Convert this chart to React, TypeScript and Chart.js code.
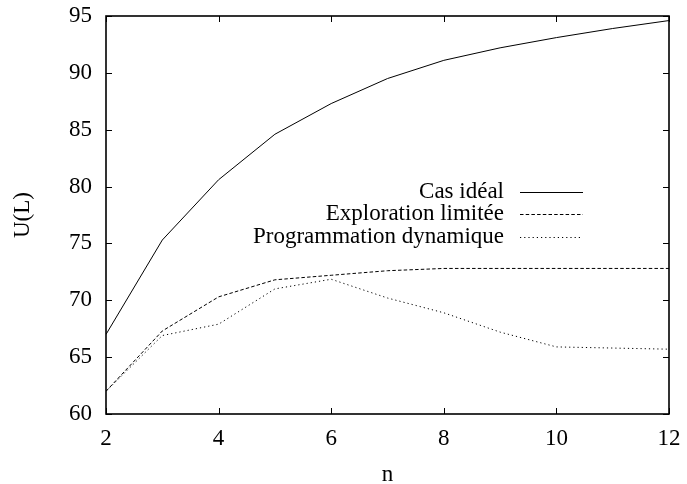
import React, { useEffect, useRef } from "react";
import { Chart, registerables } from "chart.js";

Chart.register(...registerables);

const nValues = [2, 3, 4, 5, 6, 7, 8, 9, 10, 11, 12];
const casIdeal = [67.0, 75.3, 80.6, 84.6, 87.3, 89.5, 91.1, 92.2, 93.1, 93.9, 94.6];
const explorationLimitee = [62.0, 67.3, 70.3, 71.8, 72.2, 72.6, 72.8, 72.8, 72.8, 72.8, 72.8];
const programmationDynamique = [62.0, 66.9, 67.9, 71.0, 71.85, 70.2, 68.9, 67.2, 65.9, 65.8, 65.7];
const seriesLabels = ["Cas idéal", "Exploration limitée", "Programmation dynamique"];
const seriesDashes: number[][] = [[], [3.5, 2.2], [1.2, 3]];
const xTitle = "n";
const yTitle = "U(L)";

const FONT = "'Liberation Serif', 'Times New Roman', serif";

const framePlugin = {
  id: "frameAndLegend",
  afterDraw(chart: any) {
    const { ctx, chartArea: a, scales } = chart;
    ctx.save();
    ctx.strokeStyle = "#000";
    const line = (x1: number, y1: number, x2: number, y2: number) => {
      ctx.beginPath();
      ctx.moveTo(x1, y1);
      ctx.lineTo(x2, y2);
      ctx.stroke();
    };
    // inward ticks on all four sides
    ctx.lineWidth = 1;
    const tl = 6;
    scales.x.ticks.forEach((t: any) => {
      const px = Math.round(scales.x.getPixelForValue(t.value)) + 0.5;
      line(px, a.bottom, px, a.bottom - tl);
      line(px, a.top, px, a.top + tl);
    });
    scales.y.ticks.forEach((t: any) => {
      const py = Math.round(scales.y.getPixelForValue(t.value)) + 0.5;
      line(a.left, py, a.left + tl, py);
      line(a.right, py, a.right - tl, py);
    });
    // frame
    ctx.lineWidth = 1.6;
    ctx.strokeRect(a.left, a.top, a.right - a.left, a.bottom - a.top);

    // legend
    ctx.font = `23px ${FONT}`;
    ctx.fillStyle = "#000";
    ctx.textAlign = "right";
    ctx.textBaseline = "middle";
    const textRight = a.right - 165;
    const lineStart = a.right - 149;
    const lineEnd = a.right - 86;
    const rowY = [a.top + 176, a.top + 198, a.top + 221];
    chart.data.datasets.forEach((ds: any, i: number) => {
      ctx.fillText(ds.label, textRight, rowY[i]);
      ctx.setLineDash(ds.borderDash || []);
      ctx.lineWidth = 1;
      line(lineStart, rowY[i] + 0.5, lineEnd, rowY[i] + 0.5);
    });
    ctx.setLineDash([]);
    ctx.restore();
  },
};

export default function App() {
  const ref = useRef<HTMLCanvasElement | null>(null);

  useEffect(() => {
    document.body.style.margin = "0";
    const canvas = ref.current;
    if (!canvas) return;
    const seriesData = [casIdeal, explorationLimitee, programmationDynamique];
    const chart = new Chart(canvas, {
      type: "line",
      data: {
        datasets: seriesData.map((vals, i) => ({
          label: seriesLabels[i],
          data: nValues.map((n, j) => ({ x: n, y: vals[j] })),
          borderColor: "#000",
          borderWidth: 1,
          borderDash: seriesDashes[i],
          pointRadius: 0,
          fill: false,
          tension: 0,
        })),
      },
      options: {
        responsive: false,
        animation: false,
        layout: { padding: { left: 0, right: 18, top: 16, bottom: 0 } },
        plugins: {
          legend: { display: false },
          tooltip: { enabled: false },
        },
        scales: {
          x: {
            type: "linear",
            min: 2,
            max: 12,
            grid: { display: false, drawTicks: false },
            border: { display: false },
            ticks: {
              stepSize: 2,
              padding: 11,
              color: "#000",
              font: { family: FONT, size: 23 },
            },
            title: {
              display: true,
              text: xTitle,
              color: "#000",
              font: { family: FONT, size: 23 },
              padding: { top: 0, bottom: -5 },
            },
            afterFit: (scale: any) => {
              scale.height = 70;
              scale.paddingLeft = 0;
              scale.paddingRight = 0;
              scale.paddingTop = 0;
              scale.paddingBottom = 0;
            },
          },
          y: {
            type: "linear",
            min: 60,
            max: 95,
            grid: { display: false, drawTicks: false },
            border: { display: false },
            ticks: {
              stepSize: 5,
              padding: 14,
              color: "#000",
              font: { family: FONT, size: 23 },
            },
            title: {
              display: true,
              text: yTitle,
              color: "#000",
              font: { family: FONT, size: 23 },
              padding: { top: 9, bottom: 0 },
            },
            afterFit: (scale: any) => {
              scale.width = 106;
              scale.paddingLeft = 0;
              scale.paddingRight = 0;
              scale.paddingTop = 0;
              scale.paddingBottom = 0;
            },
          },
        },
      },
      plugins: [framePlugin],
    });
    return () => chart.destroy();
  }, []);

  return (
    <div style={{ width: 687, height: 484 }}>
      <canvas ref={ref} width={687} height={484} style={{ display: "block" }} />
    </div>
  );
}
